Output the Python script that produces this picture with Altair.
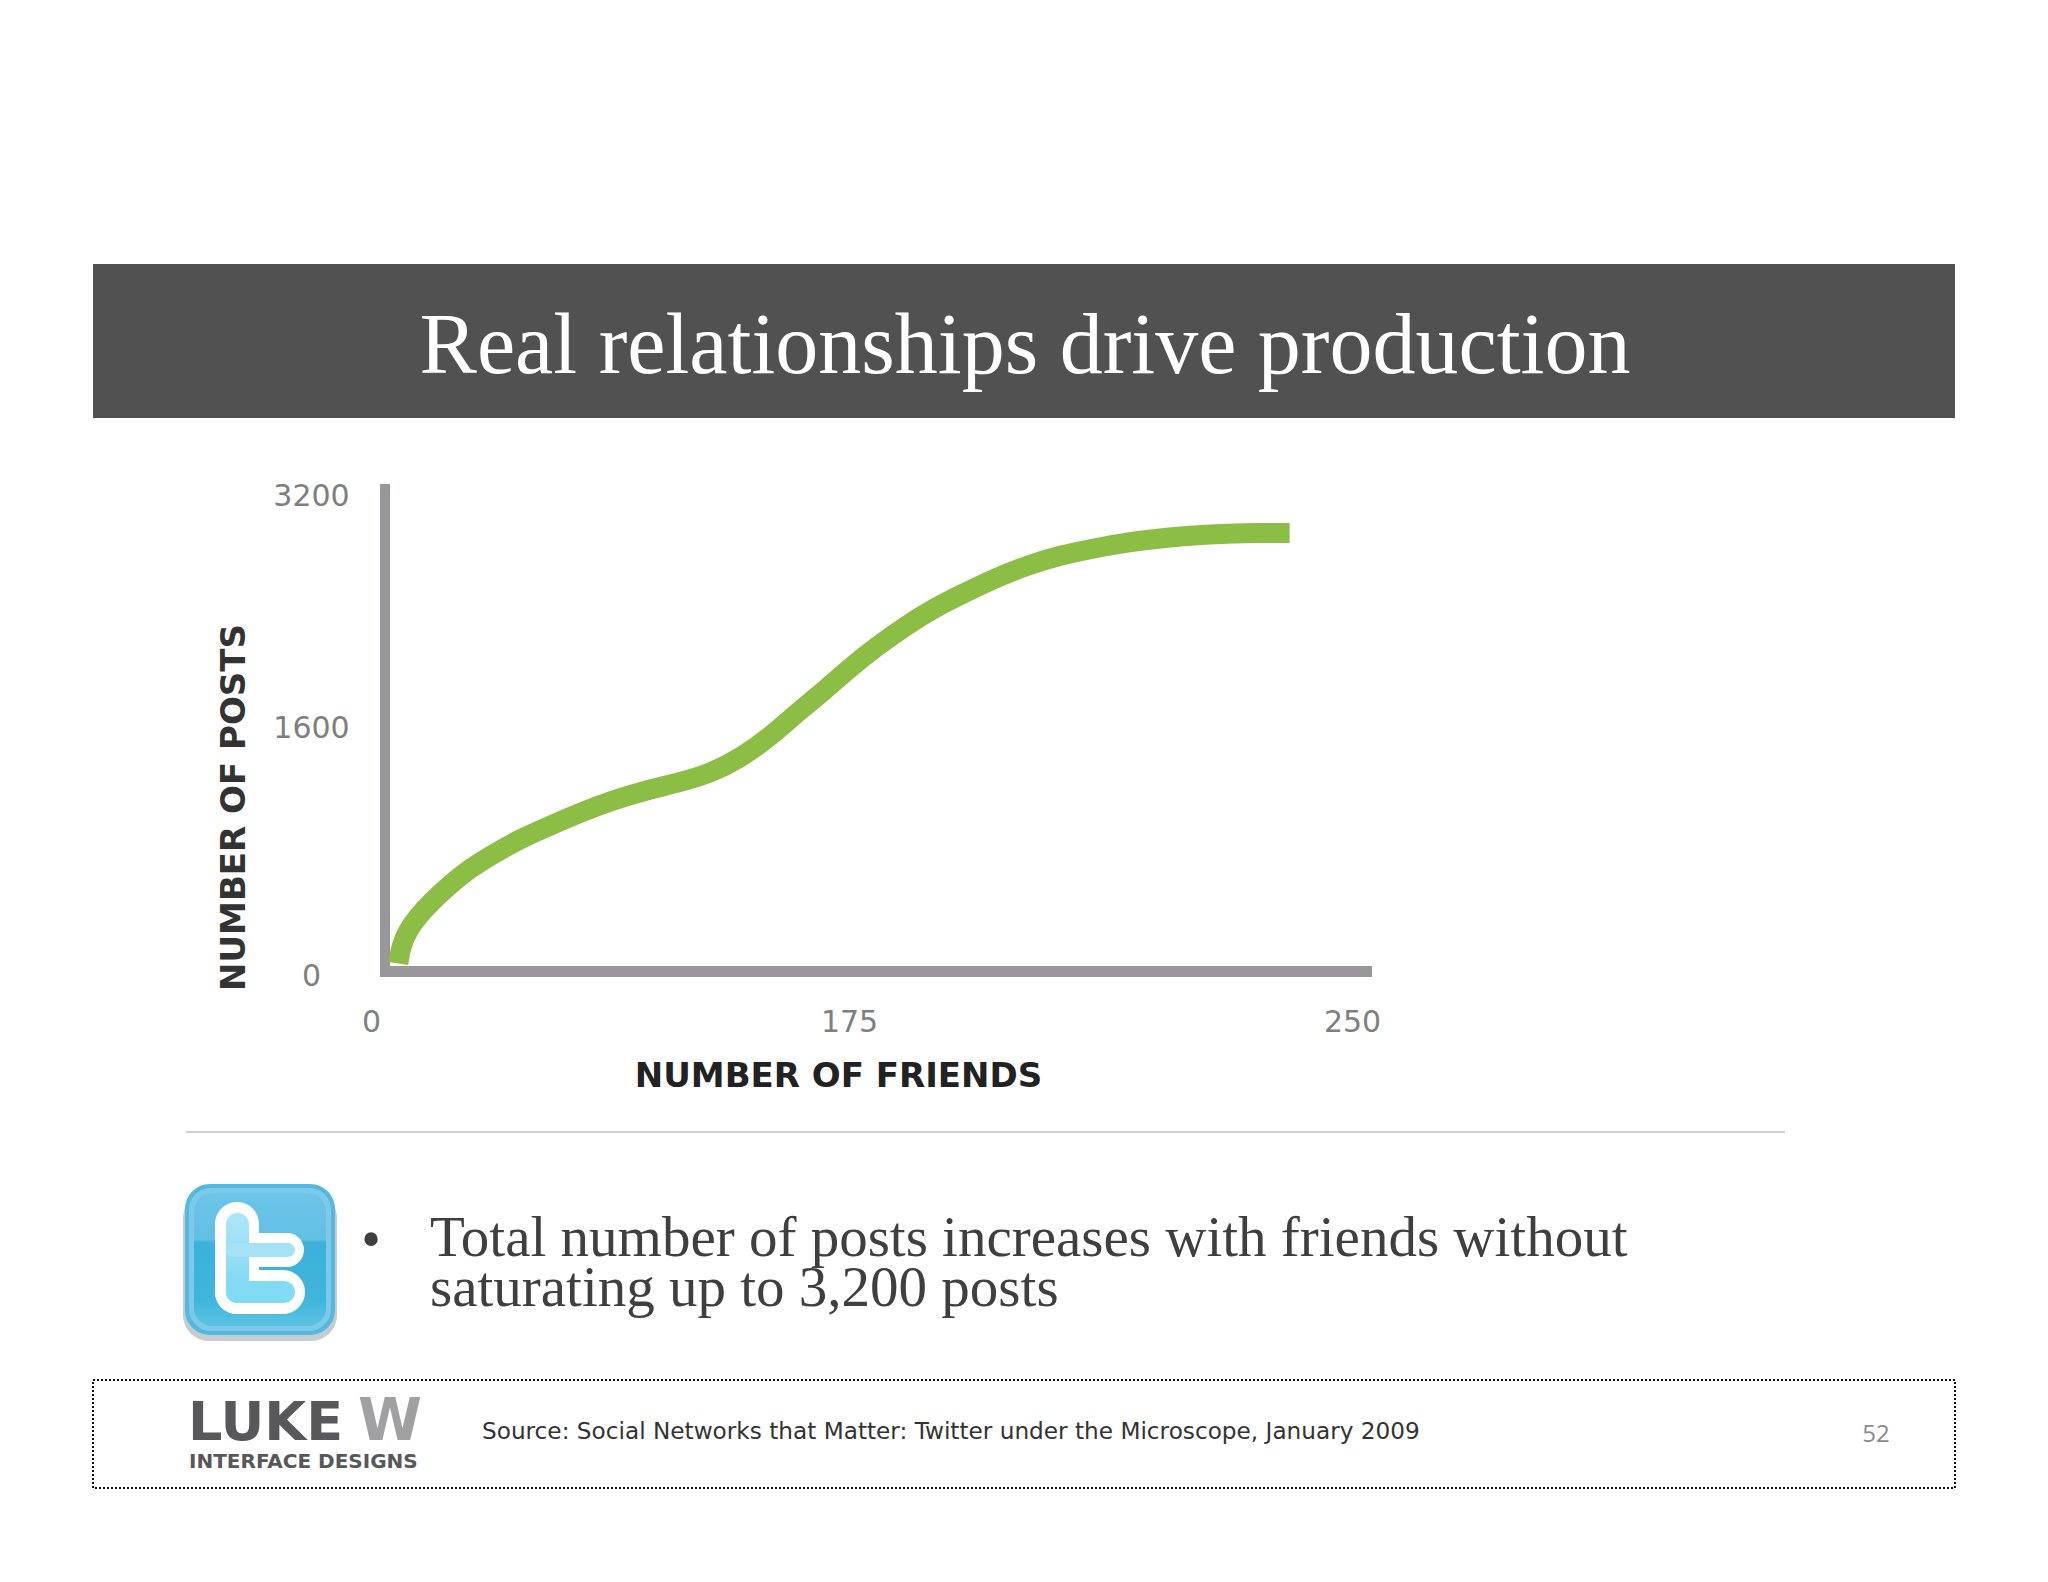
import altair as alt
import pandas as pd

# ---- values ----
friends = [10.0, 10.9, 13.5, 17.5, 22.0, 28.0, 36.2, 46.0, 55.6, 65.5, 76.5, 88.7, 100.9,
           113.1, 124.1, 135.1, 146.1, 155.8, 165.5, 175.1, 179.1, 183.6, 188.1, 191.6,
           196.5, 201.6, 206.5, 211.5, 216.5, 221.5, 226.4, 231.4, 236.4, 240.7]
posts = [81, 187, 295, 392, 476, 575, 695, 800, 893, 969, 1053, 1135, 1199,
         1250, 1306, 1404, 1542, 1703, 1850, 2014, 2161, 2310, 2437, 2517,
         2628, 2722, 2791, 2839, 2881, 2908, 2929, 2940, 2945, 2945]
x_ticks = [0, 175, 250]
y_ticks = [0, 1600, 3200]
x_title = "NUMBER OF FRIENDS"
y_title = "NUMBER OF POSTS"
headline = "Real relationships drive production"
bullet_lines = ["Total number of posts increases with friends without",
                "saturating up to 3,200 posts"]
source = "Source: Social Networks that Matter: Twitter under the Microscope, January 2009"
page_no = "52"

OX, OY = 371, 496      # page position of the plot origin
W, H = 981, 480
one = pd.DataFrame({"a": [0]})


def box(x0, y0, x1, y1, **kw):
    return alt.Chart(one).mark_rect(**kw).encode(
        x=alt.value(x0 - OX), x2=alt.value(x1 - OX),
        y=alt.value(y0 - OY), y2=alt.value(y1 - OY))


def label(s, x, y, **kw):
    kw.setdefault("baseline", "middle")
    kw.setdefault("align", "left")
    return alt.Chart(one).mark_text(text=s, **kw).encode(
        x=alt.value(x - OX), y=alt.value(y - OY))


SERIF = "Liberation Serif"
SANS = "DejaVu Sans"

blue = alt.LinearGradient(gradient="linear", x1=0, x2=0, y1=0, y2=1, stops=[
    alt.GradientStop(offset=0, color="#6cc5e8"),
    alt.GradientStop(offset=0.35, color="#62c0e4"),
    alt.GradientStop(offset=0.37, color="#3bb2d9"),
    alt.GradientStop(offset=0.8, color="#3fb5dc"),
    alt.GradientStop(offset=1, color="#5cc3e3")])
inner = alt.LinearGradient(gradient="linear", x1=0, x2=0, y1=0, y2=1, stops=[
    alt.GradientStop(offset=0, color="#b0e6f7"),
    alt.GradientStop(offset=1, color="#74d6f3")])

decor = [
    box(93, 264, 1955, 418, color="#515151"),
    label(headline, 1025, 347, align="center", font=SERIF, fontSize=86, color="#ffffff"),
    # axis bars
    box(380, 484, 390, 977, color="#999799"),
    box(380, 966, 1372, 977, color="#999799"),
    # divider
    box(186, 1131, 1785, 1133, color="#cfcfcf"),
    # icon
    box(183, 1192, 337, 1341, color="#c6cdd0", cornerRadius=26),
    box(185, 1184, 335, 1335, color="#55b8de", cornerRadius=25),
    box(189, 1188, 331, 1331, color="#7cc9e8", cornerRadius=22),
    box(194, 1193, 326, 1326, color=blue, cornerRadius=18),
    box(215, 1202, 259, 1314, color="#ffffff", cornerRadius=22),
    box(215, 1233, 304, 1267, color="#ffffff", cornerRadius=17),
    box(215, 1270, 305, 1314, color="#ffffff", cornerRadius=22),
    box(226, 1213, 249, 1303, color=inner, cornerRadius=11),
    box(226, 1243, 295, 1257, color="#a6e2f6", cornerRadius=7),
    box(226, 1281, 295, 1303, color="#82dbf5", cornerRadius=11),
    # bullet text
    label("•", 371, 1241, align="center", font=SERIF, fontSize=56, color="#3f3f3f"),
    label(bullet_lines, 430, 1256, baseline="alphabetic", lineHeight=50,
          font=SERIF, fontSize=57, color="#3f3f3f"),
    # footer
    box(93, 1380, 1955, 1488, fillOpacity=0, stroke="#111111", strokeWidth=2, strokeDash=[2, 2]),
    label("LUKE", 188, 1424, font=SANS, fontWeight="bold", fontSize=54, color="#58585a"),
    label("W", 358, 1423, font=SANS, fontWeight="bold", fontSize=58, color="#a0a0a2"),
    label("INTERFACE DESIGNS", 189, 1462, font=SANS, fontWeight="bold", fontSize=20, color="#58585a"),
    label(source, 482, 1432, font=SANS, fontSize=23.2, color="#333333"),
    label(page_no, 1876, 1435, align="center", font="Open Sans", fontSize=24, color="#8a8a8a"),
]

df = pd.DataFrame({"friends": friends, "posts": posts})
curve = alt.Chart(df).mark_line(
    color="#8cbd45", strokeWidth=20, strokeCap="butt", interpolate="basis", clip=False
).encode(
    x=alt.X("friends:Q", scale=alt.Scale(domain=x_ticks, range=[0, 478, W]),
            axis=alt.Axis(values=x_ticks, grid=False, domain=False, ticks=False,
                          labelFont=SANS, labelFontSize=30, labelColor="#807f80",
                          labelPadding=46, labelBaseline="middle", labelAlign="center",
                          labelFlush=False, labelOverlap=False, format="d",
                          title=x_title, titleFont=SANS, titleFontSize=34, titleFontWeight="bold",
                          titleColor="#222222", titleX=838 - OX, titleY=1076 - (OY + H),
                          titleBaseline="middle", titleAlign="center")),
    y=alt.Y("posts:Q", scale=alt.Scale(domain=y_ticks, range=[H, 232, 0]),
            axis=alt.Axis(values=y_ticks, grid=False, domain=False, ticks=False,
                          labelFont=SANS, labelFontSize=30, labelColor="#807f80",
                          labelPadding=60, labelBaseline="middle", labelAlign="center",
                          labelFlush=False, labelOverlap=False, format="d",
                          title=y_title, titleFont=SANS, titleFontSize=34, titleFontWeight="bold",
                          titleColor="#333333", titleX=234 - OX, titleY=807 - OY, titleAngle=270,
                          titleBaseline="middle", titleAlign="center")),
    order=alt.Order("friends:Q"),
)

chart = alt.layer(*decor, curve).properties(
    width=W, height=H,
    padding={"left": OX - 8, "top": OY - 8, "right": 2040 - OX - W, "bottom": 1574 - OY - H},
    autosize=alt.AutoSizeParams(type="none"),
    background="#ffffff",
).configure_view(stroke=None)

chart.save("out.html", embed_options={"renderer": "svg", "actions": False})
